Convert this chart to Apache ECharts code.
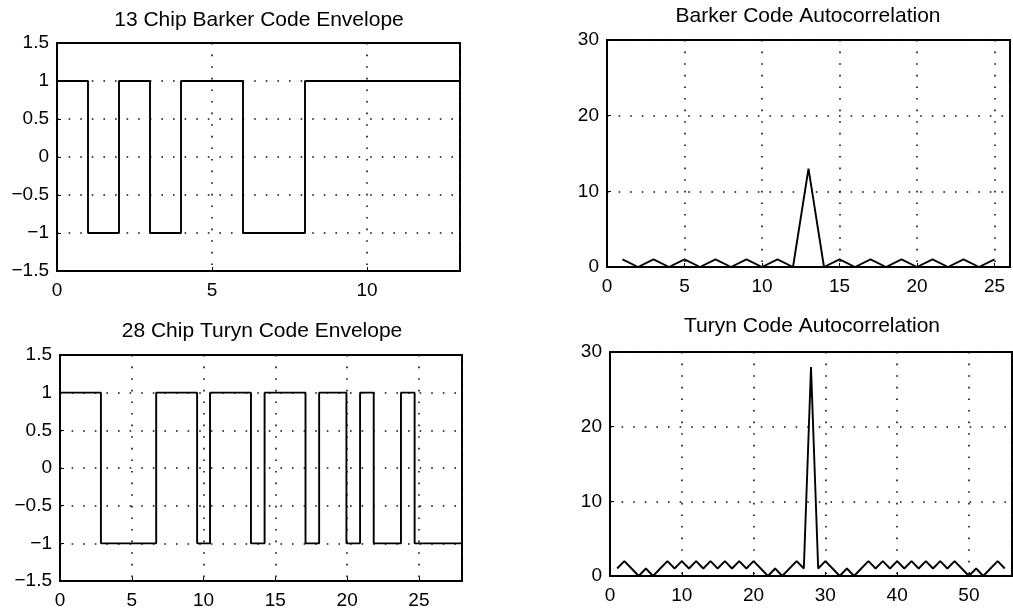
<!DOCTYPE html>
<html>
<head>
<meta charset="utf-8">
<script src="https://cdn.jsdelivr.net/npm/echarts@6/dist/echarts.min.js"></script>
<style>
html,body{margin:0;padding:0;background:#fff;}
#chart{width:1013px;height:611px;}
</style>
</head>
<body>
<div id="chart"></div>
<script>
// ---- Data ----
const titles = [
  '13 Chip Barker Code Envelope',
  'Barker Code Autocorrelation',
  '28 Chip Turyn Code Envelope',
  'Turyn Code Autocorrelation'
];
// Barker envelope: switching times and level held from each time
const barkerEnvX = [0, 1, 2, 3, 4, 6, 8, 13];
const barkerEnvY = [1, -1, 1, -1, 1, -1, 1, 1];
// Turyn envelope: switching times and level held from each time
const turynEnvX = [0, 2.85, 6.7, 9.55, 10.45, 13.3, 14.25, 17.1, 18.05, 19.95, 20.9, 21.85, 23.75, 24.7, 28];
const turynEnvY = [1, -1, 1, -1, 1, -1, 1, -1, 1, -1, 1, -1, 1, -1, -1];
// Barker autocorrelation magnitude, x = 1..25
const barkerLag = [1,2,3,4,5,6,7,8,9,10,11,12,13,14,15,16,17,18,19,20,21,22,23,24,25];
const barkerAcf = [1,0,1,0,1,0,1,0,1,0,1,0,13,0,1,0,1,0,1,0,1,0,1,0,1];
// Turyn autocorrelation magnitude, x = 1..55
const turynLag = [1,2,3,4,5,6,7,8,9,10,11,12,13,14,15,16,17,18,19,20,21,22,23,24,25,26,27,28,
  29,30,31,32,33,34,35,36,37,38,39,40,41,42,43,44,45,46,47,48,49,50,51,52,53,54,55];
const turynAcf = [1,2,1,0,1,0,1,2,1,2,1,2,1,2,1,2,1,2,1,2,1,0,1,0,1,2,1,28,
  1,2,1,0,1,0,1,2,1,2,1,2,1,2,1,2,1,2,1,2,1,0,1,0,1,2,1];
// Axis ranges / ticks
const envYRange = [-1.5, 1.5, 0.5];
const acfYRange = [0, 30, 10];
const xRanges = [[0, 13, 5], [0, 26, 5], [0, 28, 5], [0, 56, 10]];

// ---- Layout ----
const FONT = 'Liberation Sans, Arial, Helvetica, sans-serif';
const grids = [
  {left: 57, top: 43, width: 403, height: 228},
  {left: 607, top: 40, width: 403, height: 227},
  {left: 60, top: 355, width: 402, height: 226},
  {left: 610, top: 352, width: 402, height: 224}
];
const titlePos = [[259, 20], [808, 16], [262, 331], [812, 326]];

function zip(xs, ys) { return xs.map((x, i) => [x, ys[i]]); }
function fmt(step) {
  return function (v) {
    const r = Math.round(v / step);
    if (Math.abs(r * step - v) > 1e-9) return '';
    const s = String(Math.abs(Math.round(v * 100) / 100));
    return v < 0 ? '\u2212' + s : s;
  };
}
const gridLine = {show: true, lineStyle: {color: '#111', width: 1.6, type: [1.6, 10]}};
function xAxis(i) {
  const r = xRanges[i];
  return {
    type: 'value', gridIndex: i, min: r[0], max: r[1], interval: r[2],
    axisLine: {show: true, onZero: false, lineStyle: {color: '#000', width: 2}},
    axisTick: {show: true, inside: true, length: 4, lineStyle: {color: '#000'}},
    axisLabel: {color: '#000', fontSize: 19, fontFamily: FONT, margin: 10, formatter: fmt(r[2]), showMaxLabel: false},
    splitLine: gridLine
  };
}
function yAxis(i, r) {
  return {
    type: 'value', gridIndex: i, min: r[0], max: r[1], interval: r[2],
    axisLine: {show: true, onZero: false, lineStyle: {color: '#000', width: 2}},
    axisTick: {show: true, inside: true, length: 4, lineStyle: {color: '#000'}},
    axisLabel: {color: '#000', fontSize: 19, fontFamily: FONT, margin: 8, formatter: fmt(r[2])},
    splitLine: gridLine
  };
}
const lineStyle = {color: '#000', width: 1.9};
function series(i, data, step) {
  return {
    type: 'line', xAxisIndex: i, yAxisIndex: i, data: data, step: step || false,
    showSymbol: false, symbol: 'none', lineStyle: lineStyle, itemStyle: {color: '#000'},
    animation: false, silent: true
  };
}

const option = {
  backgroundColor: '#fff',
  animation: false,
  grid: grids.map(g => Object.assign({show: true, borderColor: '#000', borderWidth: 2, backgroundColor: 'transparent'}, g)),
  xAxis: [xAxis(0), xAxis(1), xAxis(2), xAxis(3)],
  yAxis: [yAxis(0, envYRange), yAxis(1, acfYRange), yAxis(2, envYRange), yAxis(3, acfYRange)],
  series: [
    series(0, zip(barkerEnvX, barkerEnvY), 'end'),
    series(1, zip(barkerLag, barkerAcf)),
    series(2, zip(turynEnvX, turynEnvY), 'end'),
    series(3, zip(turynLag, turynAcf))
  ],
  graphic: titles.map((t, i) => ({
    type: 'text', x: titlePos[i][0], y: titlePos[i][1], silent: true,
    style: {text: t, align: 'center', verticalAlign: 'middle', textAlign: 'center', textVerticalAlign: 'middle',
      fontSize: 21, fontFamily: FONT, fill: '#000'}
  }))
};

const chart = echarts.init(document.getElementById('chart'), null, {renderer: 'canvas'});
chart.setOption(option);
</script>
</body>
</html>
